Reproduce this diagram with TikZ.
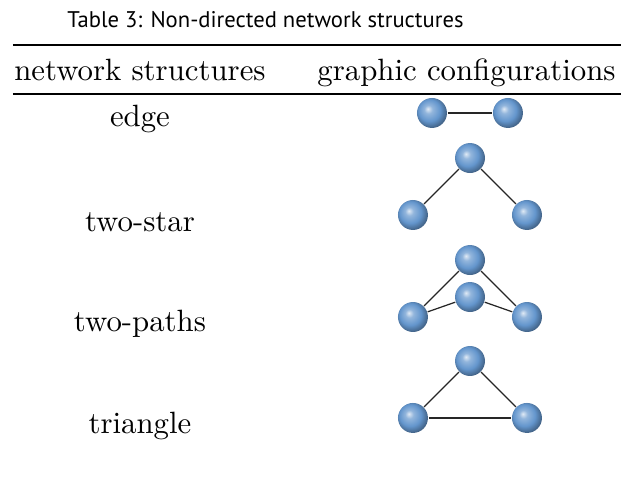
\documentclass[tikz,border=0pt]{standalone}
\usepackage{fontspec}
\usepackage{tikz}
\usetikzlibrary{shadings,positioning}
\newfontfamily\capfont{PT Sans}
\definecolor{nodeblue}{RGB}{100,150,205}
\pgfdeclareradialshading{sphere}{\pgfpoint{-7bp}{7bp}}{%
  color(0bp)=(nodeblue!20!white); color(7bp)=(nodeblue!70!white);
  color(18bp)=(nodeblue); color(31bp)=(nodeblue!55!black);
  color(50bp)=(nodeblue!55!black)}

\begin{document}
\begin{tikzpicture}[
    ball/.style={circle, inner sep=0pt, minimum size=3.42mm, shading=sphere},
    link/.style={thin, black!85},
    lbl/.style={anchor=base, inner sep=0pt}]
      \useasboundingbox (0,0) rectangle (7.086,-5.625);
      % caption and rules
      \node[lbl] at (3.029,-0.314) (cap) {\capfont\fontsize{7.35}{9}\selectfont Table 3: Non-directed network structures};
      \coordinate (tl) at (0.148,-0.513);
      \coordinate (tr) at (7.086,-0.513);
      \coordinate (ml) at (0.148,-1.073);
      \coordinate (mr) at (7.086,-1.073);
      \draw[line width=0.8pt] (tl) -- (tr);
      \draw[line width=0.5pt] (ml) -- (mr);
      \node[lbl] at (1.597,-0.913) (hstruct) {network structures};
      \node[lbl] at (5.323,-0.913) (hgraph) {graphic configurations};
      % row names
      \node[lbl] at (1.597,-1.449) (edge) {edge};
      \node[lbl] at (1.597,-2.636) (twostar) {two-star};
      \node[lbl] at (1.597,-3.788) (twopaths) {two-paths};
      \node[lbl] at (1.597,-4.941) (triangle) {triangle};
      % edge
      \node[ball] at (4.929,-1.289) (ea) {};
      \node[ball] at (5.796,-1.289) (eb) {};
      \draw[link] (ea) -- (eb);
      % two-star
      \node[ball] at (5.363,-1.803) (st) {};
      \node[ball] at (4.712,-2.453) (sl) {};
      \node[ball] at (6.013,-2.453) (sr) {};
      \draw[link] (st) -- (sl);
      \draw[link] (st) -- (sr);
      % two-paths
      \node[ball] at (5.363,-2.967) (pt) {};
      \node[ball] at (5.363,-3.389) (pm) {};
      \node[ball] at (4.712,-3.617) (pl) {};
      \node[ball] at (6.013,-3.617) (pr) {};
      \draw[link] (pt) -- (pl);
      \draw[link] (pt) -- (pr);
      \draw[link] (pm) -- (pl);
      \draw[link] (pm) -- (pr);
      % triangle
      \node[ball] at (5.363,-4.119) (tt) {};
      \node[ball] at (4.712,-4.769) (tl2) {};
      \node[ball] at (6.013,-4.769) (tr2) {};
      \draw[link] (tt) -- (tl2);
      \draw[link] (tt) -- (tr2);
      \draw[link] (tl2) -- (tr2);
\end{tikzpicture}
\end{document}
